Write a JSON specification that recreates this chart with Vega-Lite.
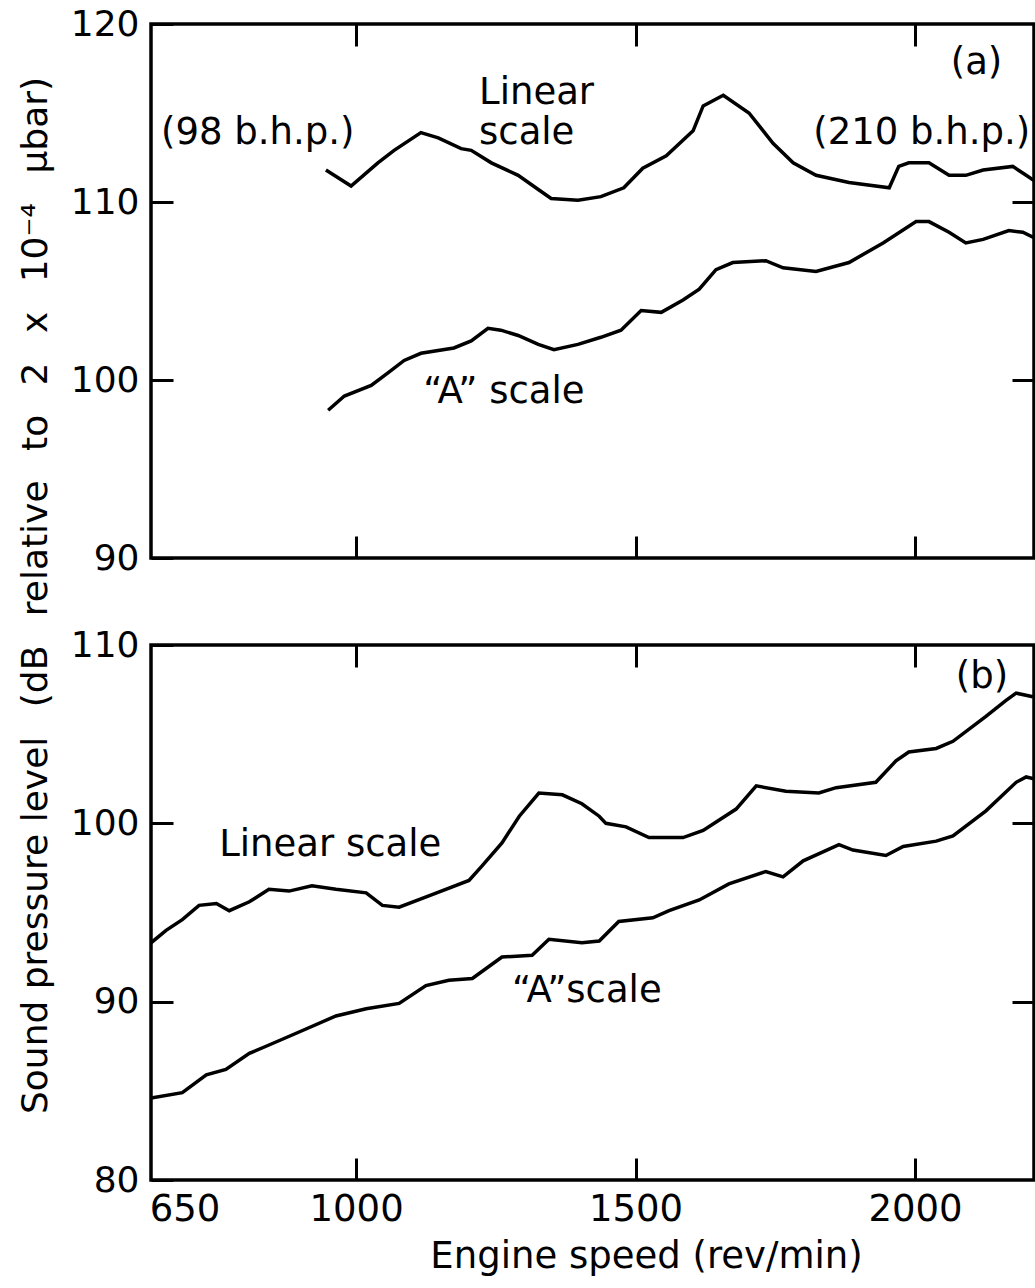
{
  "$schema": "https://vega.github.io/schema/vega-lite/v6.json",
  "background": "white",
  "padding": {"left": 15, "top": 4, "right": 0, "bottom": 5},
  "bounds": "flush",
  "spacing": 87,
  "config": {
    "view": {"stroke": "black", "strokeWidth": 3.5},
    "font": "DejaVu Sans",
    "axis": {
      "domain": false,
      "grid": false,
      "tickColor": "black",
      "tickWidth": 3,
      "tickSize": -22,
      "labelColor": "black",
      "labelFont": "DejaVu Sans",
      "labelFontSize": 36,
      "titleFont": "DejaVu Sans",
      "titleFontSize": 36,
      "titleFontWeight": "normal",
      "titleColor": "black",
      "labelFlush": false,
      "labelOverlap": false
    }
  },
  "datasets": {
    "curves": [
      {"panel": "a", "weighting": "Linear", "rpm": 946, "spl": 111.8},
      {"panel": "a", "weighting": "Linear", "rpm": 991, "spl": 110.9},
      {"panel": "a", "weighting": "Linear", "rpm": 1039, "spl": 112.2},
      {"panel": "a", "weighting": "Linear", "rpm": 1068, "spl": 112.9},
      {"panel": "a", "weighting": "Linear", "rpm": 1116, "spl": 113.9},
      {"panel": "a", "weighting": "Linear", "rpm": 1147, "spl": 113.6},
      {"panel": "a", "weighting": "Linear", "rpm": 1188, "spl": 113.0},
      {"panel": "a", "weighting": "Linear", "rpm": 1206, "spl": 112.9},
      {"panel": "a", "weighting": "Linear", "rpm": 1242, "spl": 112.2},
      {"panel": "a", "weighting": "Linear", "rpm": 1290, "spl": 111.5},
      {"panel": "a", "weighting": "Linear", "rpm": 1326, "spl": 110.7},
      {"panel": "a", "weighting": "Linear", "rpm": 1349, "spl": 110.2},
      {"panel": "a", "weighting": "Linear", "rpm": 1397, "spl": 110.1},
      {"panel": "a", "weighting": "Linear", "rpm": 1438, "spl": 110.3},
      {"panel": "a", "weighting": "Linear", "rpm": 1479, "spl": 110.8},
      {"panel": "a", "weighting": "Linear", "rpm": 1513, "spl": 111.9},
      {"panel": "a", "weighting": "Linear", "rpm": 1555, "spl": 112.6},
      {"panel": "a", "weighting": "Linear", "rpm": 1603, "spl": 114.0},
      {"panel": "a", "weighting": "Linear", "rpm": 1621, "spl": 115.4},
      {"panel": "a", "weighting": "Linear", "rpm": 1657, "spl": 116.0},
      {"panel": "a", "weighting": "Linear", "rpm": 1703, "spl": 115.0},
      {"panel": "a", "weighting": "Linear", "rpm": 1746, "spl": 113.3},
      {"panel": "a", "weighting": "Linear", "rpm": 1782, "spl": 112.2},
      {"panel": "a", "weighting": "Linear", "rpm": 1823, "spl": 111.5},
      {"panel": "a", "weighting": "Linear", "rpm": 1882, "spl": 111.1},
      {"panel": "a", "weighting": "Linear", "rpm": 1954, "spl": 110.8},
      {"panel": "a", "weighting": "Linear", "rpm": 1971, "spl": 112.0},
      {"panel": "a", "weighting": "Linear", "rpm": 1989, "spl": 112.2},
      {"panel": "a", "weighting": "Linear", "rpm": 2025, "spl": 112.2},
      {"panel": "a", "weighting": "Linear", "rpm": 2061, "spl": 111.5},
      {"panel": "a", "weighting": "Linear", "rpm": 2091, "spl": 111.5},
      {"panel": "a", "weighting": "Linear", "rpm": 2122, "spl": 111.8},
      {"panel": "a", "weighting": "Linear", "rpm": 2175, "spl": 112.0},
      {"panel": "a", "weighting": "Linear", "rpm": 2199, "spl": 111.5},
      {"panel": "a", "weighting": "Linear", "rpm": 2213, "spl": 111.2},

      {"panel": "a", "weighting": "A", "rpm": 950, "spl": 98.3},
      {"panel": "a", "weighting": "A", "rpm": 979, "spl": 99.1},
      {"panel": "a", "weighting": "A", "rpm": 1027, "spl": 99.7},
      {"panel": "a", "weighting": "A", "rpm": 1057, "spl": 100.4},
      {"panel": "a", "weighting": "A", "rpm": 1086, "spl": 101.1},
      {"panel": "a", "weighting": "A", "rpm": 1116, "spl": 101.5},
      {"panel": "a", "weighting": "A", "rpm": 1175, "spl": 101.8},
      {"panel": "a", "weighting": "A", "rpm": 1206, "spl": 102.2},
      {"panel": "a", "weighting": "A", "rpm": 1236, "spl": 102.9},
      {"panel": "a", "weighting": "A", "rpm": 1259, "spl": 102.8},
      {"panel": "a", "weighting": "A", "rpm": 1290, "spl": 102.5},
      {"panel": "a", "weighting": "A", "rpm": 1326, "spl": 102.0},
      {"panel": "a", "weighting": "A", "rpm": 1354, "spl": 101.7},
      {"panel": "a", "weighting": "A", "rpm": 1397, "spl": 102.0},
      {"panel": "a", "weighting": "A", "rpm": 1438, "spl": 102.4},
      {"panel": "a", "weighting": "A", "rpm": 1474, "spl": 102.8},
      {"panel": "a", "weighting": "A", "rpm": 1510, "spl": 103.9},
      {"panel": "a", "weighting": "A", "rpm": 1546, "spl": 103.8},
      {"panel": "a", "weighting": "A", "rpm": 1585, "spl": 104.5},
      {"panel": "a", "weighting": "A", "rpm": 1614, "spl": 105.1},
      {"panel": "a", "weighting": "A", "rpm": 1644, "spl": 106.2},
      {"panel": "a", "weighting": "A", "rpm": 1674, "spl": 106.6},
      {"panel": "a", "weighting": "A", "rpm": 1733, "spl": 106.7},
      {"panel": "a", "weighting": "A", "rpm": 1764, "spl": 106.3},
      {"panel": "a", "weighting": "A", "rpm": 1823, "spl": 106.1},
      {"panel": "a", "weighting": "A", "rpm": 1882, "spl": 106.6},
      {"panel": "a", "weighting": "A", "rpm": 1943, "spl": 107.7},
      {"panel": "a", "weighting": "A", "rpm": 2002, "spl": 108.9},
      {"panel": "a", "weighting": "A", "rpm": 2025, "spl": 108.9},
      {"panel": "a", "weighting": "A", "rpm": 2061, "spl": 108.3},
      {"panel": "a", "weighting": "A", "rpm": 2091, "spl": 107.7},
      {"panel": "a", "weighting": "A", "rpm": 2122, "spl": 107.9},
      {"panel": "a", "weighting": "A", "rpm": 2168, "spl": 108.4},
      {"panel": "a", "weighting": "A", "rpm": 2193, "spl": 108.3},
      {"panel": "a", "weighting": "A", "rpm": 2213, "spl": 108.0},

      {"panel": "b", "weighting": "Linear", "rpm": 633, "spl": 93.3},
      {"panel": "b", "weighting": "Linear", "rpm": 660, "spl": 94.0},
      {"panel": "b", "weighting": "Linear", "rpm": 689, "spl": 94.6},
      {"panel": "b", "weighting": "Linear", "rpm": 719, "spl": 95.4},
      {"panel": "b", "weighting": "Linear", "rpm": 750, "spl": 95.5},
      {"panel": "b", "weighting": "Linear", "rpm": 773, "spl": 95.1},
      {"panel": "b", "weighting": "Linear", "rpm": 809, "spl": 95.6},
      {"panel": "b", "weighting": "Linear", "rpm": 844, "spl": 96.3},
      {"panel": "b", "weighting": "Linear", "rpm": 880, "spl": 96.2},
      {"panel": "b", "weighting": "Linear", "rpm": 921, "spl": 96.5},
      {"panel": "b", "weighting": "Linear", "rpm": 964, "spl": 96.3},
      {"panel": "b", "weighting": "Linear", "rpm": 1018, "spl": 96.1},
      {"panel": "b", "weighting": "Linear", "rpm": 1047, "spl": 95.4},
      {"panel": "b", "weighting": "Linear", "rpm": 1077, "spl": 95.3},
      {"panel": "b", "weighting": "Linear", "rpm": 1136, "spl": 96.0},
      {"panel": "b", "weighting": "Linear", "rpm": 1202, "spl": 96.8},
      {"panel": "b", "weighting": "Linear", "rpm": 1225, "spl": 97.6},
      {"panel": "b", "weighting": "Linear", "rpm": 1261, "spl": 98.9},
      {"panel": "b", "weighting": "Linear", "rpm": 1292, "spl": 100.4},
      {"panel": "b", "weighting": "Linear", "rpm": 1327, "spl": 101.7},
      {"panel": "b", "weighting": "Linear", "rpm": 1369, "spl": 101.6},
      {"panel": "b", "weighting": "Linear", "rpm": 1404, "spl": 101.1},
      {"panel": "b", "weighting": "Linear", "rpm": 1435, "spl": 100.4},
      {"panel": "b", "weighting": "Linear", "rpm": 1447, "spl": 100.0},
      {"panel": "b", "weighting": "Linear", "rpm": 1483, "spl": 99.8},
      {"panel": "b", "weighting": "Linear", "rpm": 1524, "spl": 99.2},
      {"panel": "b", "weighting": "Linear", "rpm": 1585, "spl": 99.2},
      {"panel": "b", "weighting": "Linear", "rpm": 1621, "spl": 99.6},
      {"panel": "b", "weighting": "Linear", "rpm": 1680, "spl": 100.8},
      {"panel": "b", "weighting": "Linear", "rpm": 1716, "spl": 102.1},
      {"panel": "b", "weighting": "Linear", "rpm": 1769, "spl": 101.8},
      {"panel": "b", "weighting": "Linear", "rpm": 1828, "spl": 101.7},
      {"panel": "b", "weighting": "Linear", "rpm": 1859, "spl": 102.0},
      {"panel": "b", "weighting": "Linear", "rpm": 1930, "spl": 102.3},
      {"panel": "b", "weighting": "Linear", "rpm": 1966, "spl": 103.5},
      {"panel": "b", "weighting": "Linear", "rpm": 1989, "spl": 104.0},
      {"panel": "b", "weighting": "Linear", "rpm": 2038, "spl": 104.2},
      {"panel": "b", "weighting": "Linear", "rpm": 2068, "spl": 104.6},
      {"panel": "b", "weighting": "Linear", "rpm": 2127, "spl": 106.0},
      {"panel": "b", "weighting": "Linear", "rpm": 2163, "spl": 106.9},
      {"panel": "b", "weighting": "Linear", "rpm": 2181, "spl": 107.3},
      {"panel": "b", "weighting": "Linear", "rpm": 2211, "spl": 107.1},

      {"panel": "b", "weighting": "A", "rpm": 633, "spl": 84.6},
      {"panel": "b", "weighting": "A", "rpm": 689, "spl": 84.9},
      {"panel": "b", "weighting": "A", "rpm": 732, "spl": 85.9},
      {"panel": "b", "weighting": "A", "rpm": 767, "spl": 86.2},
      {"panel": "b", "weighting": "A", "rpm": 809, "spl": 87.1},
      {"panel": "b", "weighting": "A", "rpm": 839, "spl": 87.5},
      {"panel": "b", "weighting": "A", "rpm": 898, "spl": 88.3},
      {"panel": "b", "weighting": "A", "rpm": 964, "spl": 89.2},
      {"panel": "b", "weighting": "A", "rpm": 1018, "spl": 89.6},
      {"panel": "b", "weighting": "A", "rpm": 1077, "spl": 89.9},
      {"panel": "b", "weighting": "A", "rpm": 1125, "spl": 90.9},
      {"panel": "b", "weighting": "A", "rpm": 1166, "spl": 91.2},
      {"panel": "b", "weighting": "A", "rpm": 1208, "spl": 91.3},
      {"panel": "b", "weighting": "A", "rpm": 1261, "spl": 92.5},
      {"panel": "b", "weighting": "A", "rpm": 1315, "spl": 92.6},
      {"panel": "b", "weighting": "A", "rpm": 1345, "spl": 93.5},
      {"panel": "b", "weighting": "A", "rpm": 1404, "spl": 93.3},
      {"panel": "b", "weighting": "A", "rpm": 1435, "spl": 93.4},
      {"panel": "b", "weighting": "A", "rpm": 1470, "spl": 94.5},
      {"panel": "b", "weighting": "A", "rpm": 1531, "spl": 94.7},
      {"panel": "b", "weighting": "A", "rpm": 1560, "spl": 95.1},
      {"panel": "b", "weighting": "A", "rpm": 1614, "spl": 95.7},
      {"panel": "b", "weighting": "A", "rpm": 1667, "spl": 96.6},
      {"panel": "b", "weighting": "A", "rpm": 1733, "spl": 97.3},
      {"panel": "b", "weighting": "A", "rpm": 1764, "spl": 97.0},
      {"panel": "b", "weighting": "A", "rpm": 1800, "spl": 97.9},
      {"panel": "b", "weighting": "A", "rpm": 1864, "spl": 98.8},
      {"panel": "b", "weighting": "A", "rpm": 1889, "spl": 98.5},
      {"panel": "b", "weighting": "A", "rpm": 1948, "spl": 98.2},
      {"panel": "b", "weighting": "A", "rpm": 1979, "spl": 98.7},
      {"panel": "b", "weighting": "A", "rpm": 2038, "spl": 99.0},
      {"panel": "b", "weighting": "A", "rpm": 2068, "spl": 99.3},
      {"panel": "b", "weighting": "A", "rpm": 2127, "spl": 100.7},
      {"panel": "b", "weighting": "A", "rpm": 2181, "spl": 102.3},
      {"panel": "b", "weighting": "A", "rpm": 2199, "spl": 102.6},
      {"panel": "b", "weighting": "A", "rpm": 2213, "spl": 102.5}
    ],
    "notes": [
      {"panel": "a", "rpm": 651, "spl": 113.9, "label": "(98 b.h.p.)"},
      {"panel": "a", "rpm": 1220, "spl": 116.1, "label": "Linear"},
      {"panel": "a", "rpm": 1220, "spl": 113.9, "label": "scale"},
      {"panel": "a", "rpm": 1818, "spl": 113.9, "label": "(210 b.h.p.)"},
      {"panel": "a", "rpm": 2064, "spl": 117.8, "label": "(a)"},
      {"panel": "a", "rpm": 1120, "spl": 99.3, "label": "“A” scale"},
      {"panel": "b", "rpm": 2073, "spl": 108.2, "label": "(b)"},
      {"panel": "b", "rpm": 755, "spl": 98.8, "label": "Linear scale"},
      {"panel": "b", "rpm": 1279, "spl": 90.6, "label": "“A”scale"}
    ]
  },
  "vconcat": [
    {
      "width": 883,
      "height": 534,
      "layer": [
        {
          "data": {"name": "curves"},
          "transform": [{"filter": "datum.panel === 'a'"}],
          "mark": {"type": "line", "color": "black", "strokeWidth": 3.5, "clip": true},
          "encoding": {
            "x": {
              "field": "rpm", "type": "quantitative",
              "scale": {"domain": [633, 2213], "nice": false, "zero": false},
              "axis": {"orient": "bottom", "values": [1000, 1500, 2000], "labels": false, "title": null}
            },
            "y": {
              "field": "spl", "type": "quantitative",
              "scale": {"domain": [90, 120], "nice": false, "zero": false},
              "axis": {
                "orient": "left", "values": [90, 100, 110, 120], "labelPadding": 34,
                "labelBaseline": "middle", "format": "d",
                "title": "Sound pressure level \u2002(dB \u2002relative \u2002to \u20022 \u2002x \u200210⁻⁴ \u2002μbar)",
                "titleX": -116, "titleY": 571, "titleAngle": -90,
                "titleAlign": "center", "titleBaseline": "middle"
              }
            },
            "detail": {"field": "weighting"}
          }
        },
        {
          "data": {"name": "notes"},
          "transform": [{"filter": "datum.panel === 'a'"}],
          "mark": {"type": "text", "align": "left", "baseline": "middle", "fontSize": 37, "color": "black", "font": "DejaVu Sans"},
          "encoding": {
            "x": {
              "field": "rpm", "type": "quantitative",
              "axis": {"orient": "top", "values": [1000, 1500, 2000], "labels": false, "title": null}
            },
            "y": {
              "field": "spl", "type": "quantitative",
              "axis": {"orient": "right", "values": [100, 110], "labels": false, "title": null}
            },
            "text": {"field": "label"}
          }
        }
      ],
      "resolve": {"axis": {"x": "independent", "y": "independent"}}
    },
    {
      "width": 883,
      "height": 535,
      "layer": [
        {
          "data": {"name": "curves"},
          "transform": [{"filter": "datum.panel === 'b'"}],
          "mark": {"type": "line", "color": "black", "strokeWidth": 3.5, "clip": true},
          "encoding": {
            "x": {
              "field": "rpm", "type": "quantitative",
              "scale": {"domain": [633, 2213], "nice": false, "zero": false},
              "axis": {
                "orient": "bottom", "values": [650, 1000, 1500, 2000], "format": "d",
                "labelPadding": 33, "labelBaseline": "top", "labelFontSize": 37,
                "labelOffset": {"condition": {"test": "datum.value === 650", "value": 24}, "value": 0},
                "tickOpacity": {"condition": {"test": "datum.value === 650", "value": 0}, "value": 1},
                "title": "Engine speed  (rev/min)", "titleFontSize": 37,
                "titleX": 495, "titleY": 76, "titleAlign": "center", "titleBaseline": "middle"
              }
            },
            "y": {
              "field": "spl", "type": "quantitative",
              "scale": {"domain": [80, 110], "nice": false, "zero": false},
              "axis": {"orient": "left", "values": [80, 90, 100, 110], "format": "d", "labelPadding": 34, "labelBaseline": "middle", "title": null}
            },
            "detail": {"field": "weighting"}
          }
        },
        {
          "data": {"name": "notes"},
          "transform": [{"filter": "datum.panel === 'b'"}],
          "mark": {"type": "text", "align": "left", "baseline": "middle", "fontSize": 37, "color": "black", "font": "DejaVu Sans"},
          "encoding": {
            "x": {
              "field": "rpm", "type": "quantitative",
              "axis": {"orient": "top", "values": [1000, 1500, 2000], "labels": false, "title": null}
            },
            "y": {
              "field": "spl", "type": "quantitative",
              "axis": {"orient": "right", "values": [90, 100], "labels": false, "title": null}
            },
            "text": {"field": "label"}
          }
        }
      ],
      "resolve": {"axis": {"x": "independent", "y": "independent"}}
    }
  ]
}
